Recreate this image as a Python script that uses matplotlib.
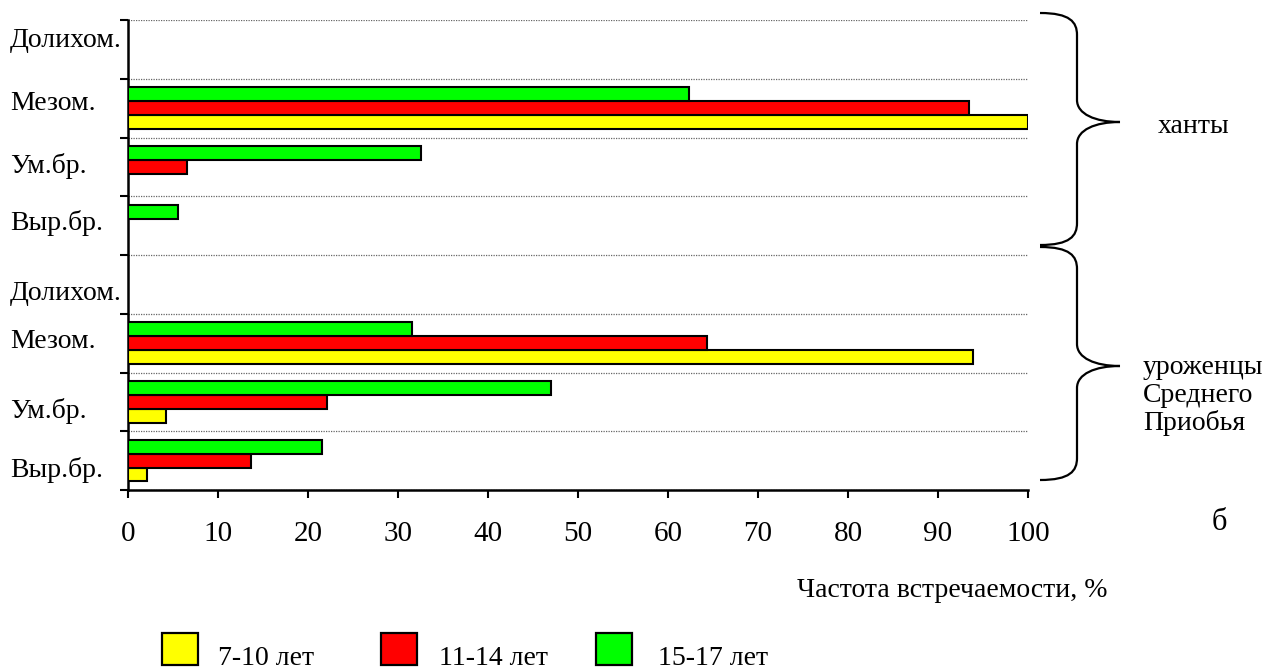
import numpy as np
import matplotlib
matplotlib.use("Agg")
import matplotlib.pyplot as plt
from matplotlib.path import Path
from matplotlib.patches import PathPatch, Rectangle
from matplotlib.transforms import ScaledTranslation

# ---------------- data ----------------
categories = ['Долихом.', 'Мезом.', 'Ум.бр.', 'Выр.бр.',
              'Долихом.', 'Мезом.', 'Ум.бр.', 'Выр.бр.']
series_labels = ['7-10 лет', '11-14 лет', '15-17 лет']
v_7_10 = [0, 100.0, 0, 0, 0, 93.9, 4.2, 2.1]
v_11_14 = [0, 93.4, 6.6, 0, 0, 64.3, 22.1, 13.7]
v_15_17 = [0, 62.3, 32.6, 5.5, 0, 31.5, 47.0, 21.5]
x_ticks = [0, 10, 20, 30, 40, 50, 60, 70, 80, 90, 100]
x_label = 'Частота встречаемости, %'
group_labels = ['ханты', ['уроженцы', 'Среднего', 'Приобья']]
panel_letter = 'б'

# ---------------- style ----------------
plt.rcParams['font.family'] = ['Liberation Serif', 'DejaVu Serif']
W, H = 1282, 671
colors = ['#FFFF00', '#FF0000', '#00FF00']
FS = 20
# vertical nudges of the category labels (pixels, positive = down)
label_nudge_px = [-12, -8, -4, -6, 6, -5, 6, 6]

fig = plt.figure(figsize=(W / 100, H / 100), dpi=100)
fig.patch.set_facecolor('white')


def fx(px):
    return px / W


def fy(py):
    return 1 - py / H


ax = fig.add_axes([fx(128), fy(490), 900 / W, 470 / H])

n = len(categories)
pos = np.arange(n)
h = 0.235
offsets = [h, 0.0, -h]  # yellow lowest, green highest (axis inverted)
for vals, col, off, lab in zip([v_7_10, v_11_14, v_15_17], colors, offsets, series_labels):
    idx = [i for i, v in enumerate(vals) if v > 0]
    ax.barh([pos[i] + off for i in idx], [vals[i] for i in idx], height=h,
            color=col, edgecolor='black', linewidth=1.5, label=lab, zorder=3)

ax.set_xlim(0, 100)
ax.set_ylim(n - 0.5, -0.5)

# major y ticks at band boundaries, labels at centres (minor)
ax.set_yticks(np.arange(-0.5, n, 1.0))
ax.set_yticklabels([])
ax.set_yticks(pos, minor=True)
ax.set_yticklabels(categories, minor=True, fontsize=FS, ha='left')
ax.tick_params(axis='y', which='major', direction='out', length=6, width=1.5)
ax.tick_params(axis='y', which='minor', length=0, pad=118 * 72 / 100)
for lbl, dpx in zip(ax.get_yticklabels(minor=True), label_nudge_px):
    lbl.set_transform(lbl.get_transform() + ScaledTranslation(0, -dpx / 100, fig.dpi_scale_trans))

ax.set_xticks(x_ticks)
ax.set_xticklabels([str(t) for t in x_ticks], fontsize=FS + 1)
ax.tick_params(axis='x', direction='out', length=6, width=1.5, pad=16)

for s in ['top', 'right']:
    ax.spines[s].set_visible(False)
for s in ['left', 'bottom']:
    ax.spines[s].set_linewidth(1.8)

ax.yaxis.grid(True, which='major', linestyle=(0, (1, 1)), color='#666666', linewidth=0.9)
ax.set_axisbelow(True)

# x label
fig.text(fx(797), fy(597), x_label, fontsize=FS, ha='left', va='baseline')

# braces


def brace(y_top, y_tip, y_bot, x0=1040, xv=1077, xt=1120):
    pts = [
        (x0, y_top), (x0 + 30, y_top), (xv, y_top + 9), (xv, y_top + 22),
        (xv, y_tip - 22),
        (xv, y_tip - 8), (xv + 18, y_tip), (xt, y_tip),
        (xv + 18, y_tip), (xv, y_tip + 8), (xv, y_tip + 22),
        (xv, y_bot - 22),
        (xv, y_bot - 9), (x0 + 30, y_bot), (x0, y_bot),
    ]
    codes = [Path.MOVETO, Path.CURVE4, Path.CURVE4, Path.CURVE4,
             Path.LINETO,
             Path.CURVE4, Path.CURVE4, Path.CURVE4,
             Path.CURVE4, Path.CURVE4, Path.CURVE4,
             Path.LINETO,
             Path.CURVE4, Path.CURVE4, Path.CURVE4]
    path = Path([(fx(x), fy(y)) for x, y in pts], codes)
    fig.add_artist(PathPatch(path, fill=False, lw=1.6, edgecolor='black',
                             transform=fig.transFigure))


brace(13, 122, 245)
brace(247, 366, 480)

fig.text(fx(1158), fy(133), group_labels[0], fontsize=FS, ha='left', va='baseline')
for k, line in enumerate(group_labels[1]):
    fig.text(fx(1143), fy(374 + 28 * k), line, fontsize=FS, ha='left', va='baseline')
fig.text(fx(1212), fy(530), panel_letter, fontsize=FS + 2, ha='left', va='baseline')

# legend
box_x = [162, 381, 596]
txt_x = [218, 439, 658]
for bx, tx, col, lab in zip(box_x, txt_x, colors, series_labels):
    fig.add_artist(Rectangle((fx(bx), fy(665)), 36 / W, 32 / H, transform=fig.transFigure,
                             facecolor=col, edgecolor='black', lw=1.6))
    fig.text(fx(tx), fy(665), lab, fontsize=FS, ha='left', va='baseline')

fig.savefig('out.png', dpi=100, facecolor='white')
